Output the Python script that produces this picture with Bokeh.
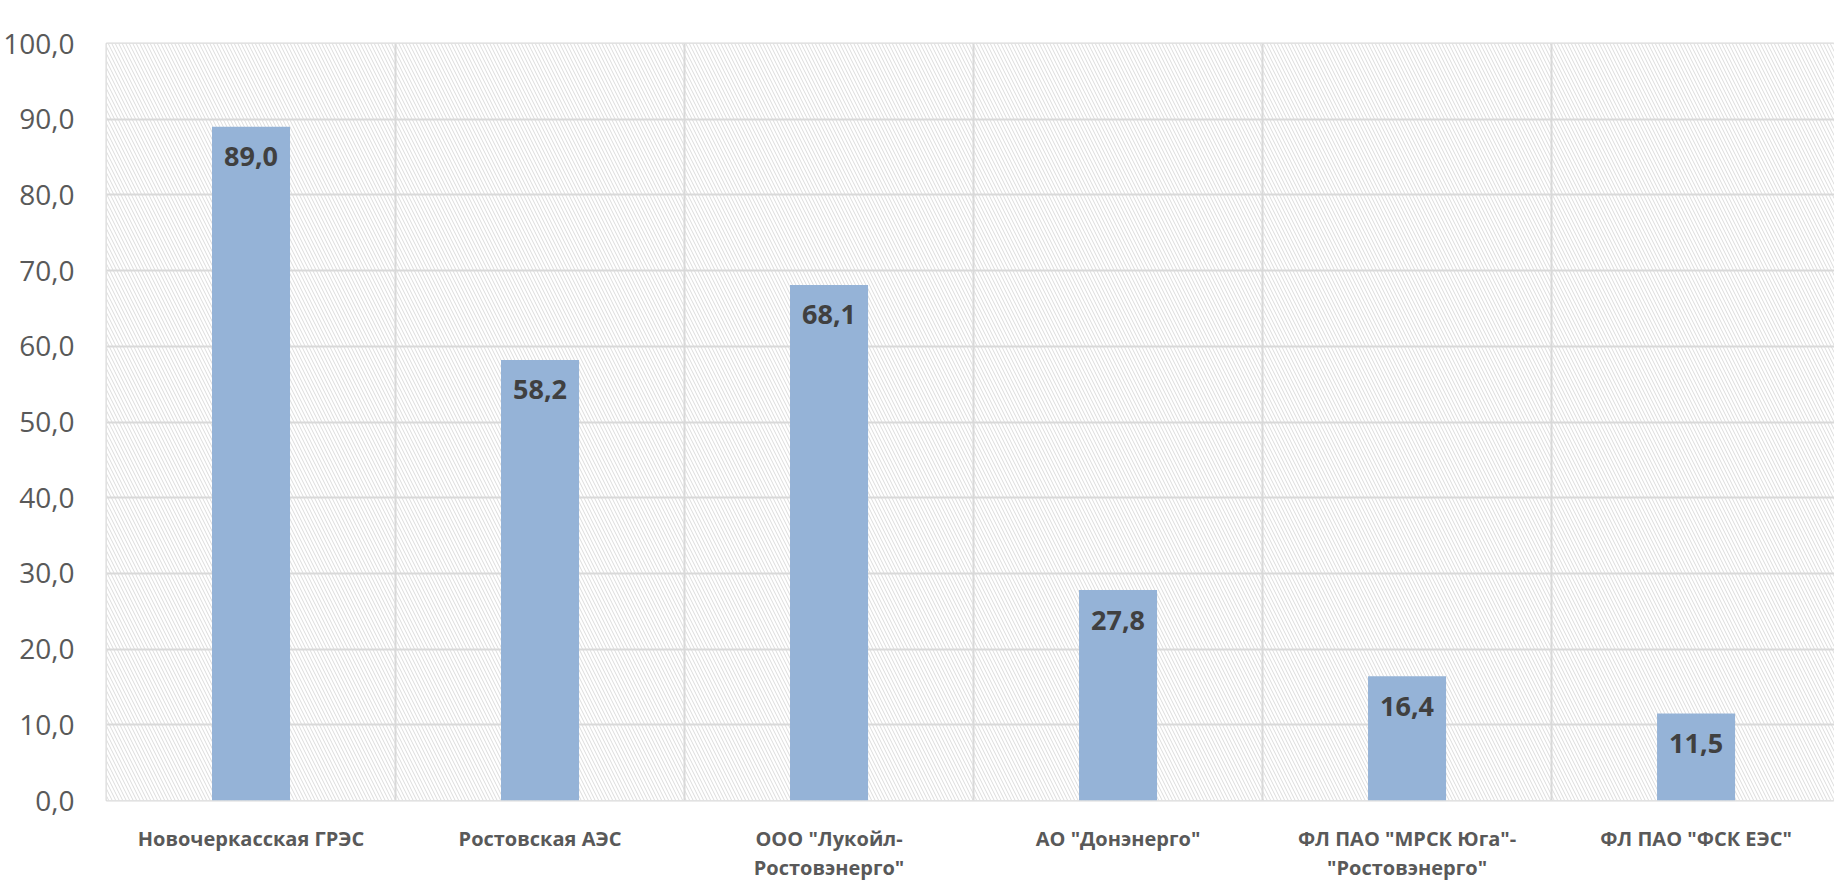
from bokeh.plotting import figure
from bokeh.models import Range1d, FixedTicker, BoxAnnotation, ColumnDataSource
from bokeh.core.properties import value
from bokeh.embed import file_html
from bokeh.resources import INLINE

categories = [
    "Новочеркасская ГРЭС",
    "Ростовская АЭС",
    "ООО \"Лукойл-\nРостовэнерго\"",
    "АО \"Донэнерго\"",
    "ФЛ ПАО \"МРСК Юга\"-\n\"Ростовэнерго\"",
    "ФЛ ПАО \"ФСК ЕЭС\"",
]
values = [89.0, 58.2, 68.1, 27.8, 16.4, 11.5]
y_ticks = [0, 10, 20, 30, 40, 50, 60, 70, 80, 90, 100]

def fmt(v):
    return f"{v:.1f}".replace(".", ",")

positions = list(range(1, len(categories) + 1))
src = ColumnDataSource(dict(x=positions, top=values, label=[fmt(v) for v in values]))

FONT = "Open Sans"

p = figure(
    frame_width=1728, frame_height=757,
    x_range=Range1d(0.5, 0.5 + 5.979), y_range=Range1d(0, 100),
    output_backend="svg", toolbar_location=None,
    min_border_left=99, min_border_top=43, min_border_right=0, min_border_bottom=60,
)
p.background_fill_color = "white"
p.border_fill_color = "white"
p.outline_line_color = "#d9d9d9"
p.outline_line_width = 2

# hatched plot-area background
p.add_layout(BoxAnnotation(level="image", fill_color="white", fill_alpha=1.0,
                           line_color=None, hatch_pattern="\\", hatch_color="#dcdcdc",
                           hatch_weight=1, hatch_scale=7, hatch_alpha=1.0))

p.vbar(x="x", top="top", width=0.27, source=src, fill_color="#95B3D7", line_color=None)

p.text(x="x", y="top", text="label", source=src, text_align="center", text_baseline="middle",
       y_offset=30, text_font=value(FONT), text_font_style="bold", text_font_size="27px",
       text_color="#404040")

# grids
p.ygrid.ticker = FixedTicker(ticks=y_ticks)
p.ygrid.grid_line_color = "#d9d9d9"
p.ygrid.grid_line_width = 2
p.xgrid.ticker = FixedTicker(ticks=[i + 0.5 for i in range(len(categories) + 1)])
p.xgrid.grid_line_color = "#d9d9d9"
p.xgrid.grid_line_width = 2

# y axis
p.yaxis.ticker = FixedTicker(ticks=y_ticks)
p.yaxis.major_label_overrides = {t: fmt(t) for t in y_ticks}
p.yaxis.axis_line_color = None
p.yaxis.major_tick_line_color = None
p.yaxis.minor_tick_line_color = None
p.yaxis.major_tick_out = 0
p.yaxis.major_label_standoff = 32
p.yaxis.major_label_text_font = FONT
p.yaxis.major_label_text_font_size = "28px"
p.yaxis.major_label_text_color = "#595959"

# x axis
p.xaxis.ticker = FixedTicker(ticks=positions)
p.xaxis.major_label_overrides = {x: c for x, c in zip(positions, categories)}
p.xaxis.axis_line_color = None
p.xaxis.major_tick_line_color = None
p.xaxis.minor_tick_line_color = None
p.xaxis.major_tick_out = 0
p.xaxis.major_label_standoff = 24
p.xaxis.major_label_text_font = FONT
p.xaxis.major_label_text_font_style = "bold"
p.xaxis.major_label_text_font_size = "20px"
p.xaxis.major_label_text_color = "#595959"
p.xaxis.major_label_text_line_height = 1.1

open("out.html", "w").write(file_html(p, INLINE))
